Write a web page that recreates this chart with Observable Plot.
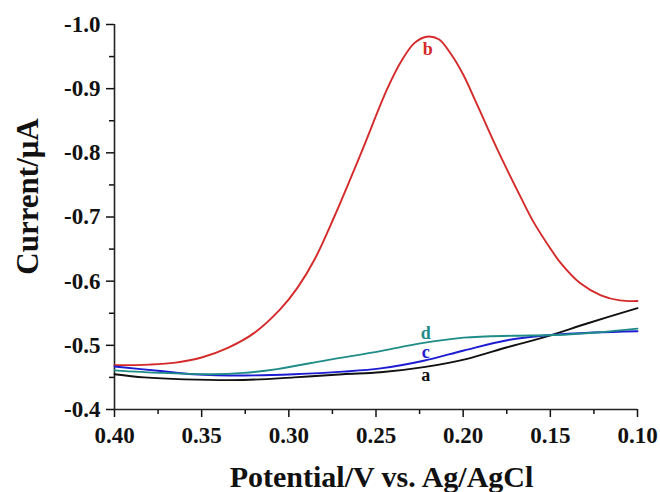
<!DOCTYPE html>
<html><head><meta charset="utf-8">
<script src="https://cdn.jsdelivr.net/npm/d3@7"></script>
<script src="https://cdn.jsdelivr.net/npm/@observablehq/plot@0.6"></script>
<style>body{margin:0;background:#fff}</style>
</head><body><div id="chart"></div>
<script>
// Series a (black)
const potA = [0.400, 0.383, 0.360, 0.326, 0.297, 0.269, 0.2474, 0.2226, 0.1977, 0.1747, 0.1518, 0.1289, 0.100];
const curA = [-0.455, -0.450, -0.447, -0.446, -0.450, -0.455, -0.458, -0.466, -0.479, -0.497, -0.514, -0.534, -0.558];
// Series b (red)
const potB = [0.400, 0.380, 0.365, 0.350, 0.335, 0.320, 0.305, 0.295, 0.285, 0.274, 0.2585, 0.2435, 0.235, 0.228, 0.221, 0.214, 0.207, 0.200, 0.192, 0.180, 0.167, 0.160, 0.150, 0.144, 0.133, 0.121, 0.110, 0.100];
const curB = [-0.469, -0.470, -0.473, -0.481, -0.496, -0.519, -0.556, -0.590, -0.635, -0.700, -0.800, -0.900, -0.945, -0.971, -0.981, -0.977, -0.954, -0.922, -0.875, -0.803, -0.731, -0.694, -0.651, -0.628, -0.597, -0.578, -0.570, -0.569];
// Series c (blue)
const potC = [0.400, 0.3736, 0.3547, 0.326, 0.297, 0.269, 0.2474, 0.2226, 0.1996, 0.1747, 0.150, 0.125, 0.100];
const curC = [-0.467, -0.460, -0.455, -0.453, -0.455, -0.459, -0.464, -0.476, -0.492, -0.508, -0.516, -0.520, -0.522];
// Series d (teal)
const potD = [0.400, 0.3736, 0.345, 0.326, 0.3067, 0.278, 0.2474, 0.2245, 0.1996, 0.171, 0.148, 0.1232, 0.100];
const curD = [-0.461, -0.457, -0.455, -0.457, -0.463, -0.477, -0.491, -0.503, -0.512, -0.515, -0.516, -0.520, -0.526];

const seriesNames = ["a", "b", "c", "d"];
const seriesColors = ["#111111", "#d42a2a", "#1c1cd0", "#1f8c88"];
const labelPot = [0.2214, 0.2203, 0.2214, 0.2214];
const labelCur = [-0.4441, -0.9517, -0.4806, -0.5102];

const xTicks = [0.40, 0.35, 0.30, 0.25, 0.20, 0.15, 0.10];
const xMinor = [0.375, 0.325, 0.275, 0.225, 0.175, 0.125];
const yTicks = [-1.0, -0.9, -0.8, -0.7, -0.6, -0.5, -0.4];
const yMinor = [-0.95, -0.85, -0.75, -0.65, -0.55, -0.45];
const xTitle = "Potential/V vs. Ag/AgCl";
const yTitle = "Current/μA";

const pots = [potA, potB, potC, potD];
const curs = [curA, curB, curC, curD];
const rows = [];
seriesNames.forEach((s, i) => pots[i].forEach((p, j) => rows.push({s, p, c: curs[i][j]})));
const labels = seriesNames.map((s, i) => ({s, p: labelPot[i], c: labelCur[i]}));

const font = "'Liberation Serif', 'Times New Roman', serif";
const chart = Plot.plot({
  width: 660, height: 492,
  marginTop: 24, marginBottom: 83, marginLeft: 114, marginRight: 23,
  style: {fontFamily: font, fontWeight: "bold", background: "white", color: "#111"},
  x: {domain: [0.40, 0.10]},
  y: {domain: [-0.4, -1.0]},
  color: {domain: seriesNames, range: seriesColors},
  marks: [
    Plot.axisX(xMinor, {tickSize: 5, tickFormat: () => "", label: null, strokeWidth: 1.5}),
    Plot.axisX(xTicks, {tickSize: 8, tickPadding: 9, tickFormat: d => d.toFixed(2), fontSize: 23, label: null, strokeWidth: 1.5}),
    Plot.axisY(yMinor, {tickSize: 5, tickFormat: () => "", label: null, strokeWidth: 1.5}),
    Plot.axisY(yTicks, {tickSize: 8, tickPadding: 6, tickFormat: d => d.toFixed(1), fontSize: 23, label: null, strokeWidth: 1.5}),
    Plot.ruleX([0.40], {strokeWidth: 1.6, stroke: "#222"}),
    Plot.ruleY([-0.4], {strokeWidth: 1.6, stroke: "#222"}),
    Plot.line(rows, {x: "p", y: "c", z: "s", stroke: "s", curve: "catmull-rom", strokeWidth: 1.9}),
    Plot.text(labels, {x: "p", y: "c", text: "s", fill: "s", lineAnchor: "bottom", fontSize: 18, fontWeight: "bold"}),
    Plot.text([xTitle], {frameAnchor: "bottom", textAnchor: "middle", lineAnchor: "bottom", dy: 77, dx: 5.5, fontSize: 30, fontWeight: "bold"}),
    Plot.text([yTitle], {frameAnchor: "left", textAnchor: "middle", rotate: -90, lineAnchor: "bottom", dx: -77, dy: -20.5, fontSize: 31, fontWeight: "bold"})
  ]
});
document.getElementById("chart").appendChild(chart);
</script>
</body></html>
